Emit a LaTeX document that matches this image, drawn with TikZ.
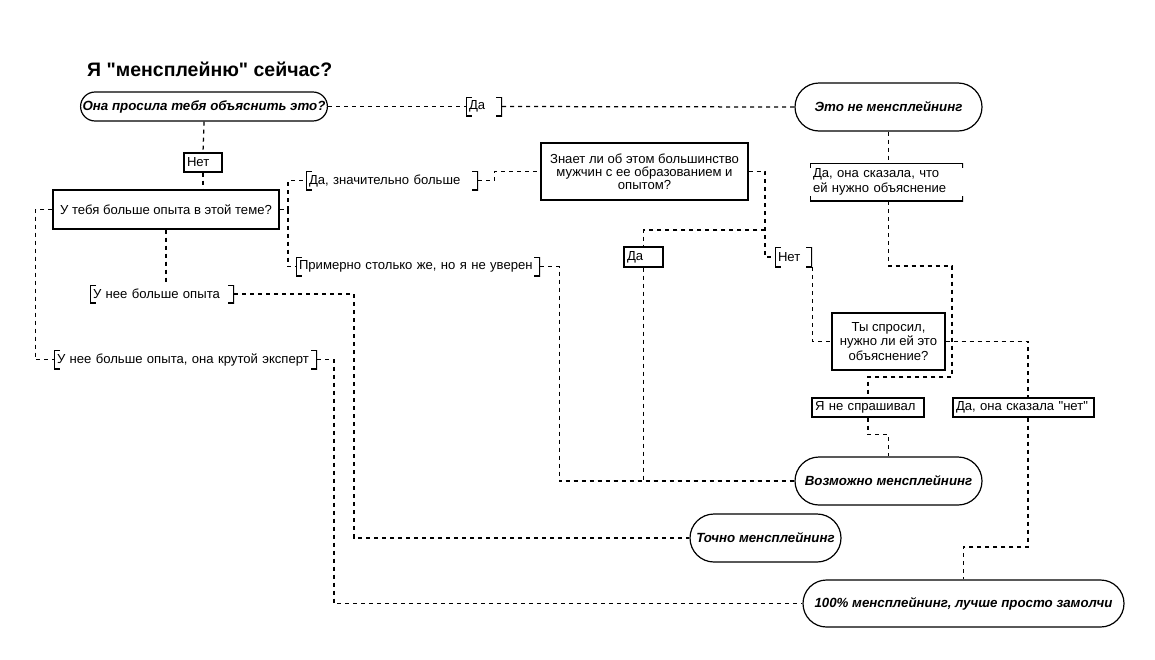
\documentclass[tikz,border=0pt]{standalone}
\usepackage{fontspec}
\setmainfont{Liberation Sans}[Ligatures=TeXOff]
\usetikzlibrary{calc}
\tikzset{
  x=1pt,y=-1pt,
  conn/.style={draw, line width=1.25pt, dash pattern=on 4pt off 4pt},
  base/.style={font=\fontsize{13.1}{13.5}\selectfont, inner sep=2pt},
  term/.style={base, draw, line width=1.2pt, font=\fontsize{13.3}{14}\selectfont\bfseries\itshape, fill=white},
  quest/.style={base, draw, line width=1.2pt, align=center, fill=white},
  lbl/.style={base, fill=white, align=left, inner xsep=3pt, inner ysep=1pt},
  lblbox/.style={lbl, draw, line width=1.1pt},
  brk/.style={lbl, path picture={
    \draw[line width=2.2pt]
      ([xshift=6pt]path picture bounding box.north west) -- (path picture bounding box.north west)
      -- (path picture bounding box.south west) -- ([xshift=6pt]path picture bounding box.south west)
      ([xshift=-6pt]path picture bounding box.north east) -- (path picture bounding box.north east)
      -- (path picture bounding box.south east) -- ([xshift=-6pt]path picture bounding box.south east);}},
  tbbrk/.style={lbl, path picture={
    \draw[line width=2.2pt]
      ([yshift=-5pt]path picture bounding box.north west) -- (path picture bounding box.north west)
      -- (path picture bounding box.north east) -- ([yshift=-5pt]path picture bounding box.north east)
      ([yshift=5pt]path picture bounding box.south west) -- (path picture bounding box.south west)
      -- (path picture bounding box.south east) -- ([yshift=5pt]path picture bounding box.south east);}},
}
\begin{document}
\begin{tikzpicture}
\useasboundingbox (0,0) rectangle (1155,659);
% title
\node[anchor=west, font=\fontsize{19.5}{21}\selectfont\bfseries, inner sep=0pt] (title) at (87,69) {Я "менсплейню" сейчас?};
% terminals
\node[term, minimum width=246pt, minimum height=29pt, rounded corners=14.5pt] (n1) at (204,106.5) {Она просила тебя объяснить это?};
\node[term, minimum width=187pt, minimum height=48pt, rounded corners=24pt] (t1) at (888.5,107) {Это не менсплейнинг};
\node[term, minimum width=187pt, minimum height=48pt, rounded corners=24pt] (t2) at (888.5,481) {Возможно менсплейнинг};
\node[term, minimum width=151pt, minimum height=48pt, rounded corners=24pt] (t3) at (765.5,538) {Точно менсплейнинг};
\node[term, minimum width=321pt, minimum height=47pt, rounded corners=23.5pt] (t4) at (963.5,603.5) {100\% менсплейнинг, лучше просто замолчи};
% questions
\node[quest, minimum width=226pt, minimum height=39pt] (q2) at (166,209.5) {У тебя больше опыта в этой теме?};
\node[quest, minimum width=207pt, minimum height=57pt, font=\fontsize{13.1}{13}\selectfont] (q3) at (644.5,171.5) {Знает ли об этом большинство\\мужчин с ее образованием и\\опытом?};
\node[quest, minimum width=113pt, minimum height=57pt, font=\fontsize{13.1}{14.2}\selectfont] (q4) at (888.5,341.5) {Ты спросил,\\нужно ли ей это\\объяснение?};
% labels
\node[lblbox, text width=32pt, minimum height=19pt] (net1) at (203,162.5) {Нет};
\node[lblbox, text width=33pt, minimum height=20pt] (da2) at (643.5,257) {Да};
\node[lblbox, text width=106pt, minimum height=19pt] (nespr) at (868,407.5) {Я не спрашивал};
\node[lblbox, text width=135pt, minimum height=19pt] (danet) at (1023.5,407.5) {Да, она сказала "нет"};
\node[brk, text width=30pt, minimum height=19pt] (da1) at (484,106.5) {Да};
\node[brk, text width=166pt, minimum height=19pt] (dazn) at (392,180.5) {Да, значительно больше};
\node[brk, text width=238pt, minimum height=19pt] (primer) at (418,266.5) {Примерно столько же, но я не уверен};
\node[brk, text width=31pt, minimum height=20pt] (net2) at (793.5,257) {Нет};
\node[brk, text width=138pt, minimum height=18pt] (unee) at (162,294) {У нее больше опыта};
\node[brk, text width=257pt, minimum height=19pt] (uneeexp) at (185.5,359.5) {У нее больше опыта, она крутой эксперт};
\node[tbbrk, text width=147pt, minimum height=38pt, font=\fontsize{13.1}{14.5}\selectfont] (daona) at (886.5,182) {Да, она сказала, что\\ей нужно объяснение};
% junctions
\coordinate (j1) at (288,209.5);
\coordinate (j2) at (765,171.5);
\coordinate (j3) at (765,230);
\coordinate (j4) at (952,266);
\coordinate (j5) at (952,377);
\coordinate (j6) at (1028,341.5);
% connectors
\draw[conn] (n1.east) -- (da1.west);
\draw[conn] (da1.east) -- (t1.west);
\draw[conn] (n1.south) -- (net1.north);
\draw[conn] (net1.south) -- (net1.south |- q2.north);
\draw[conn] (q2.east) -- (j1);
\draw[conn] (j1) |- (dazn.west);
\draw[conn] (j1) |- (primer.west);
\draw[conn] (dazn.east) -- ++(16,0) |- (q3.west);
\draw[conn] (q3.east) -- (j2) |- (net2.west);
\draw[conn] (j3) -| (da2.north);
\draw[conn] (da2.south) |- (t2.west);
\draw[conn] (primer.east) -- ++(19,0) |- (t2.west);
\draw[conn] (net2.south east) |- (q4.west);
\draw[conn] (t1.south) -- (t1.south |- daona.north);
\draw[conn] (t1.south |- daona.south) -- (t1.south |- j4) -- (j4) -- (j5) -| (nespr.north);
\draw[conn] (q4.east) -- (j6) -- (j6 |- danet.north);
\draw[conn] (j6 |- danet.south) -- (1028,547) -| (t4.north);
\draw[conn] (nespr.south) -- ++(0,17) -| (t2.north);
\draw[conn] (q2.south) -- (q2.south |- unee.north);
\draw[conn] (unee.east) -- (354,294) |- (t3.west);
\draw[conn] (q2.west) -- ++(-17,0) |- (uneeexp.west);
\draw[conn] (uneeexp.east) -- (334,359.5) |- (t4.west);
\end{tikzpicture}
\end{document}
